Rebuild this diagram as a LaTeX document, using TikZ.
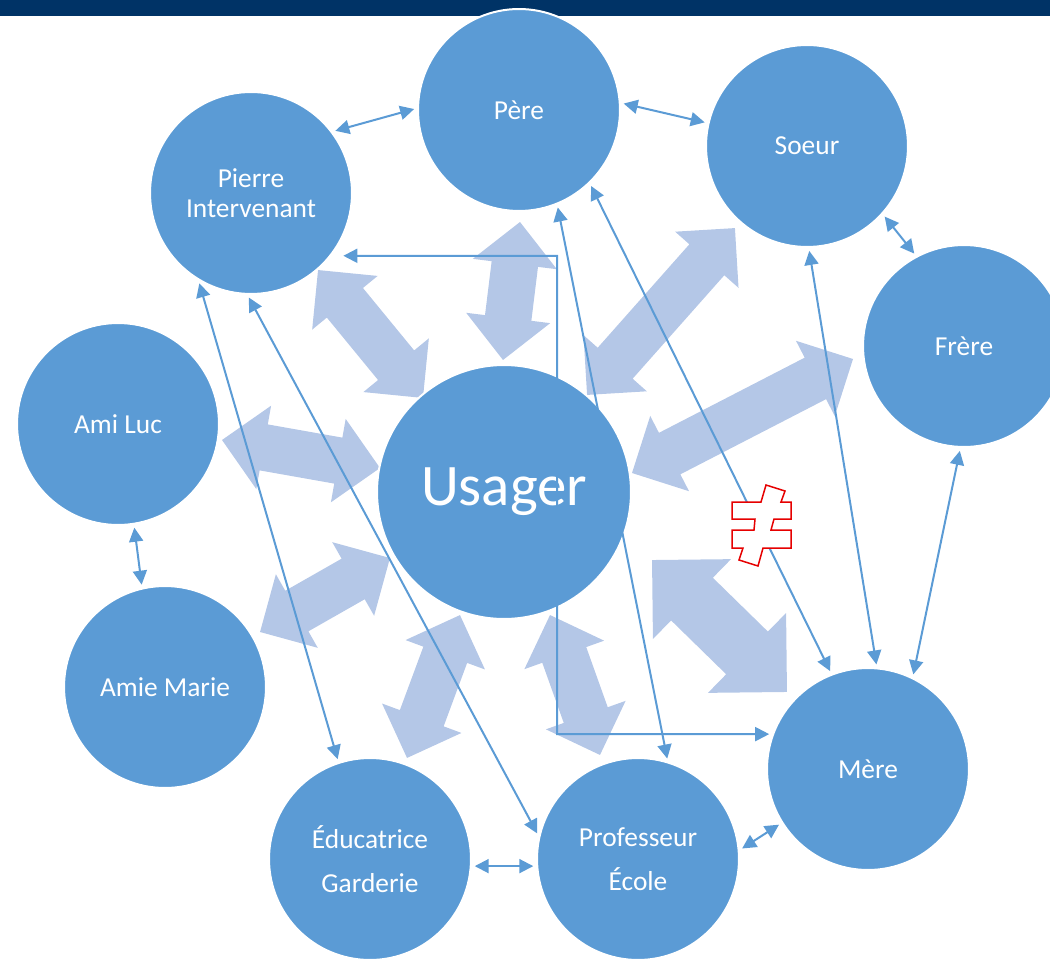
\documentclass[tikz,border=0pt]{standalone}
\usepackage{fontspec}
\setmainfont{Carlito}
\usetikzlibrary{arrows.meta,shapes.arrows,calc,backgrounds}

\definecolor{bubble}{RGB}{91,155,213}
\definecolor{paleblue}{RGB}{180,199,231}
\definecolor{navy}{RGB}{0,51,102}
\definecolor{alertred}{RGB}{230,0,0}

\tikzset{
  person/.style={circle,fill=bubble,draw=white,line width=0.04cm,text=white,
    minimum size=4.04cm,inner sep=0pt,align=center,font=\fontsize{15.6}{17}\selectfont},
  link/.style={draw=bubble,line width=0.04cm,<->,>={Triangle[width=0.28cm,length=0.28cm]},
    shorten <=0.06cm,shorten >=0.06cm},
  bigarrow/.style={double arrow,fill=paleblue,draw=none,inner xsep=0pt,inner ysep=0.46cm,
    double arrow head extend=0.38cm},
}

\newcommand{\pairarrow}[3][]{%
  \path let \p1=($(#3)-(#2)$), \n1={atan2(\y1,\x1)}, \n2={veclen(\x1,\y1)} in
    node[bigarrow,#1,minimum height=\n2,rotate=\n1] at ($(#2)!0.5!(#3)$) {};}

\begin{document}
\begin{tikzpicture}[x=0.02cm,y=-0.02cm]
      \useasboundingbox (0,0) rectangle (1050,959);
      \clip (0,0) rectangle (1050,959);

      \node[person] (pere) at (519,110) {Père};
      \node[person] (soeur) at (807,146) {Soeur};
      \node[person] (pierre) at (251,193) {Pierre\\Intervenant};
      \node[person] (frere) at (964,346) {Frère};
      \node[person] (amiluc) at (118,424) {Ami Luc};
      \node[person,minimum size=5.08cm,font=\fontsize{33.5}{40}\selectfont] (usager) at (504,492) {Usager};
      \node[person] (amie) at (165,687) {Amie Marie};
      \node[person] (mere) at (868,769) {Mère};
      \node[person] (educ) at (370,859) {Éducatrice\\[8pt]Garderie};
      \node[person] (prof) at (638,859) {Professeur\\[8pt]École};

      \coordinate (pierre-u) at (318,270);
      \coordinate (u-pierre) at (423,398);
      \coordinate (pere-u) at (520,222);
      \coordinate (u-pere) at (503,360);
      \coordinate (soeur-u) at (735,228);
      \coordinate (u-soeur) at (587,395);
      \coordinate (frere-u) at (853,359);
      \coordinate (u-frere) at (632,473);
      \coordinate (amiluc-u) at (222,440);
      \coordinate (u-amiluc) at (380,468);
      \coordinate (amie-u) at (260,632);
      \coordinate (u-amie) at (390,558);
      \coordinate (educ-u) at (407,758);
      \coordinate (u-educ) at (460,615);
      \coordinate (prof-u) at (600,755);
      \coordinate (u-prof) at (550,615);
      \coordinate (mere-u) at (787,692);
      \coordinate (u-mere) at (652,560);
      \coordinate (elbow) at (557,734);

      \begin{pgfonlayer}{background}
      \fill[navy] (0,0) rectangle (1050,16);
      \pairarrow{pierre-u}{u-pierre}
      \pairarrow{pere-u}{u-pere}
      \pairarrow{soeur-u}{u-soeur}
      \pairarrow{frere-u}{u-frere}
      \pairarrow{amiluc-u}{u-amiluc}
      \pairarrow{amie-u}{u-amie}
      \pairarrow{educ-u}{u-educ}
      \pairarrow{prof-u}{u-prof}
      \pairarrow[inner ysep=0.59cm,double arrow head extend=0.52cm]{mere-u}{u-mere}
      \end{pgfonlayer}

      \draw[link] (pierre.37) -- (pere.179);
      \draw[link] (pere.4) -- (soeur.167);
      \draw[link] (soeur.-42) -- (frere.118);
      \draw[link] (frere.-92) -- (mere.64);
      \draw[link] (soeur.-89) -- (mere.85);
      \draw[link] (amiluc.-81) -- (amie.103);
      \draw[link] (educ.-4) -- (prof.-176);
      \draw[link] (prof.5) -- (mere.-148);
      \draw[link] (pierre.-121) -- (educ.108);
      \draw[link] (pierre.-92) -- (prof.167);
      \draw[link] (pere.-68) -- (prof.73);
      \draw[link] (pere.-46) -- (mere.111);
      \draw[link,shorten <=0.24cm] (pierre.-38) -| (elbow) -- (mere.160);

      % different
      \draw[alertred,fill=white,line width=0.03cm] (766,485) -- (785,491) -- (781,502) -- (791,502)
        -- (791,519) -- (774,519) -- (771,530) -- (791,530) -- (791,548) -- (763,548)
        -- (758,566) -- (739,560) -- (743,548) -- (732,548) -- (732,530) -- (754,530)
        -- (755,519) -- (732,519) -- (732,502) -- (761,502) -- cycle;
\end{tikzpicture}
\end{document}
